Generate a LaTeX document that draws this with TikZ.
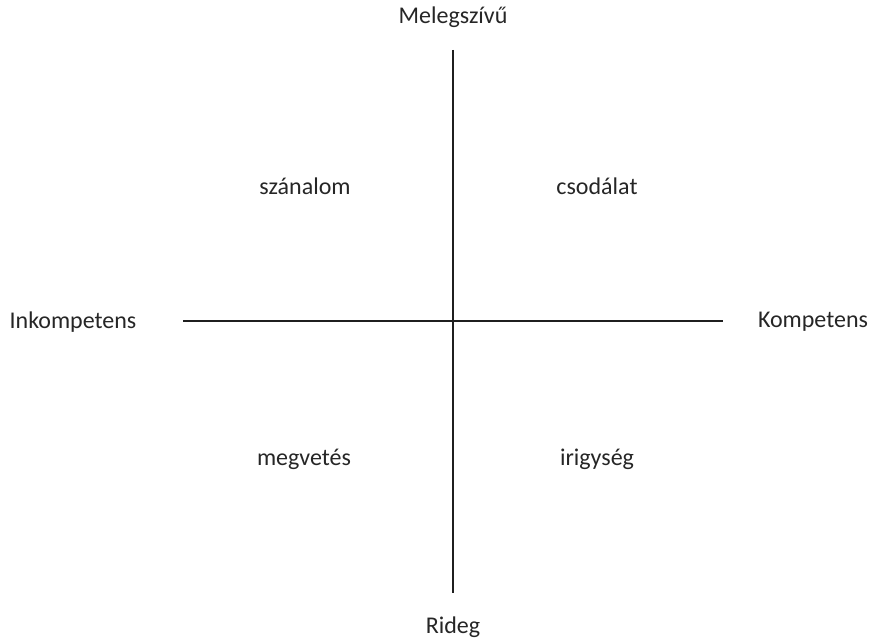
\documentclass[tikz,border=0pt]{standalone}
\usepackage{fontspec}
\setmainfont{Carlito}
\begin{document}
\begin{tikzpicture}[x=0.75pt,y=-0.75pt,
  lbl/.style={text=black!85,font=\fontsize{18}{21}\selectfont},
  axis/.style={draw=black!88,line width=1.8pt}]
\useasboundingbox (0,0) rectangle (880,642);
\node [lbl] (warm) at (453,17) {Melegszívű};
\node [lbl] (cold) at (453,627) {Rideg};
\node [lbl] (incomp) at (73,322) {Inkompetens};
\node [lbl] (comp) at (813,322) {Kompetens};
\node [lbl] (pity) at (305,186) {szánalom};
\node [lbl] (admir) at (597,186) {csodálat};
\node [lbl] (contempt) at (304,459) {megvetés};
\node [lbl] (envy) at (597,459) {irigység};
\coordinate (top) at (453,50);
\coordinate (bottom) at (453,593);
\coordinate (left) at (183,321);
\coordinate (right) at (723,321);
\draw [axis] (top) -- (bottom);
\draw [axis] (left) -- (right);
\end{tikzpicture}
\end{document}
